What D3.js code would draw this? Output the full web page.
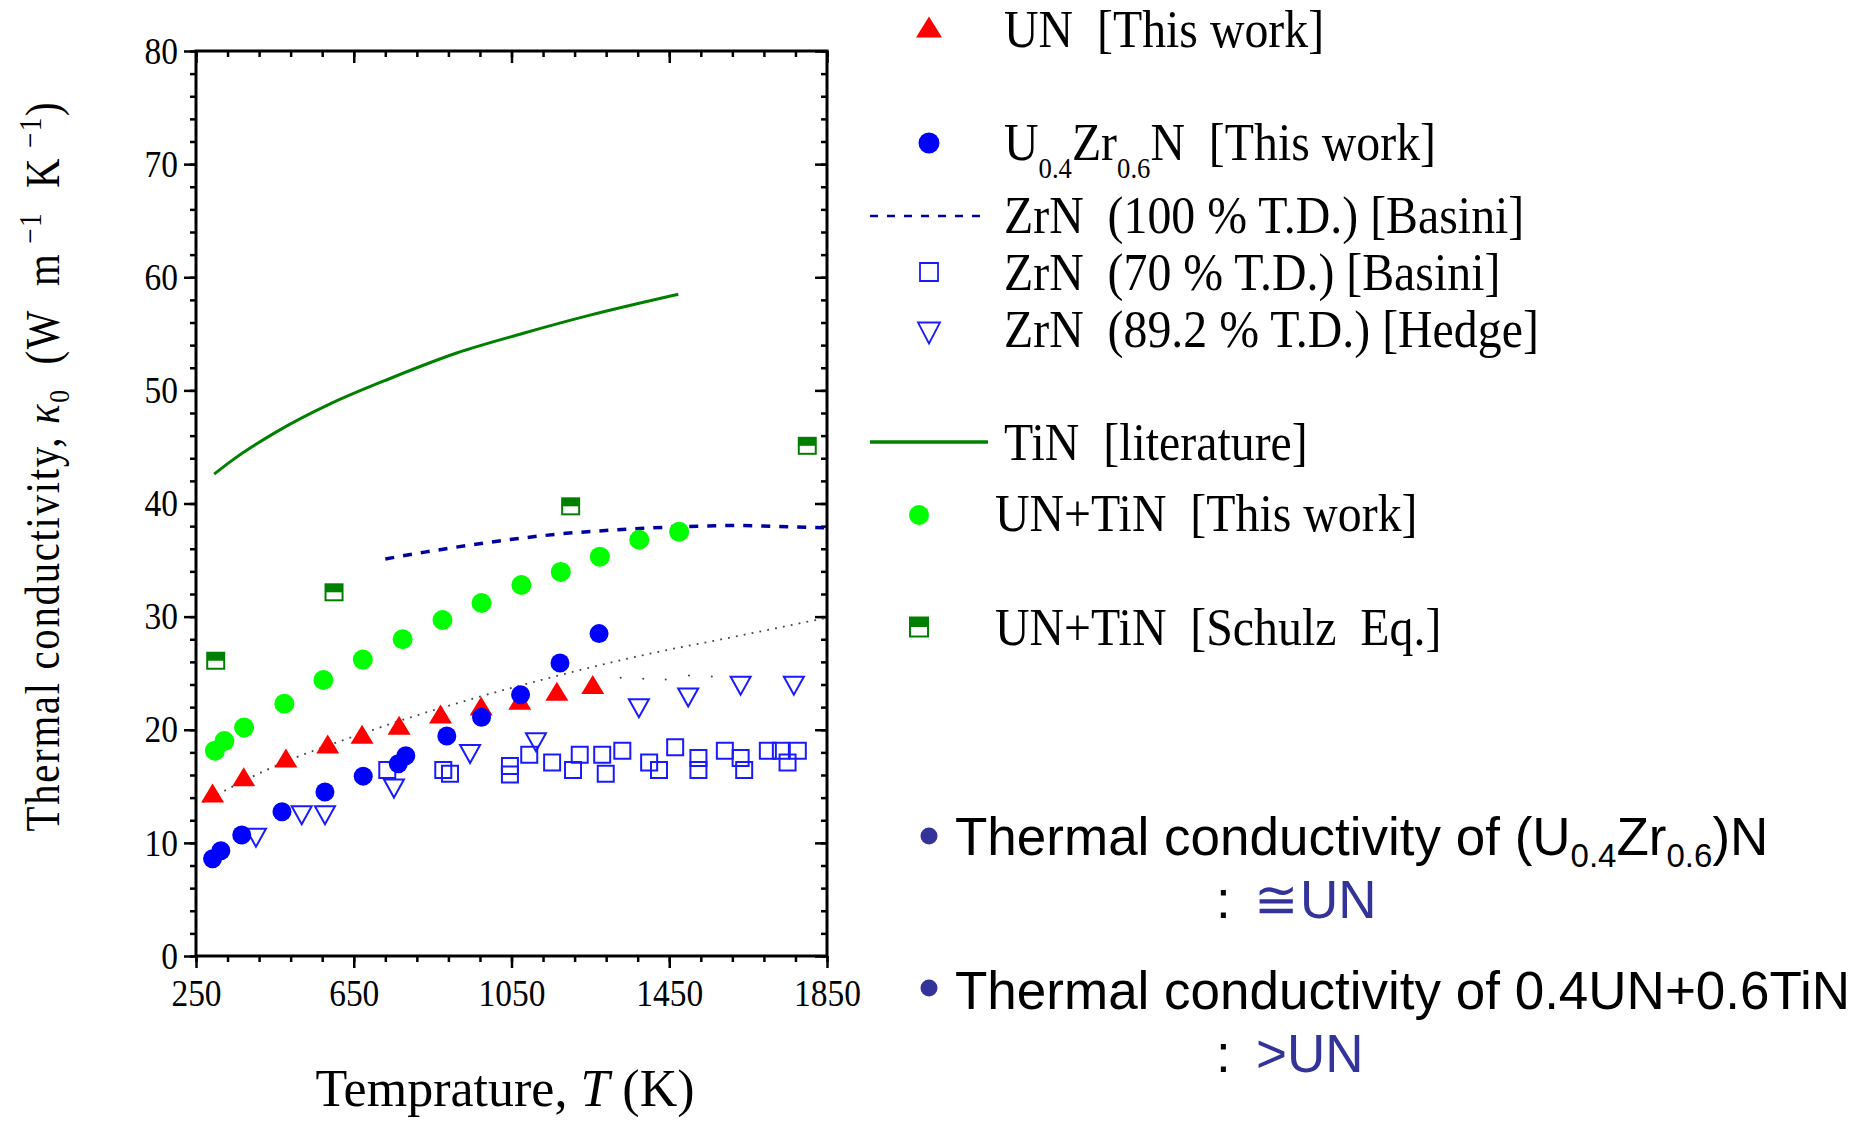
<!DOCTYPE html>
<html>
<head>
<meta charset="utf-8">
<script src="https://cdn.jsdelivr.net/npm/d3@7"></script>
<style>
body{margin:0;background:#fff;}
svg{display:block;font-family:"Liberation Serif","Times New Roman",serif;}
.tick line{stroke:#000;stroke-width:2.5;}
.tick text{font-family:"Liberation Serif",serif;font-size:38px;fill:#000;}
</style>
</head>
<body>
<div id="chart"></div>
<script>
// ---- data ----
const xTicks = [250, 650, 1050, 1450, 1850];
const yTicks = [0, 10, 20, 30, 40, 50, 60, 70, 80];

// UN [This work]
const unT = [292, 371, 478, 584, 671, 765, 870, 973, 1071, 1165, 1256];
const unK = [14.4, 15.85, 17.5, 18.75, 19.6, 20.4, 21.4, 22.1, 22.6, 23.4, 24.0];
// U0.4Zr0.6N [This work]
const uzrT = [292, 313, 366, 468, 577, 674, 763, 782, 886, 974, 1073, 1173, 1272];
const uzrK = [8.6, 9.3, 10.7, 12.75, 14.5, 15.9, 17.0, 17.7, 19.45, 21.1, 23.1, 25.9, 28.5];
// ZrN 100 % T.D. [Basini] (dashed)
const zrn100T = [730, 830, 980, 1170, 1330, 1480, 1620, 1750, 1850];
const zrn100K = [35.1, 35.7, 36.5, 37.3, 37.7, 37.95, 38.05, 37.95, 37.85];
// ZrN 70 % T.D. [Basini] (open squares)
const zrn70T = [735, 877, 894, 1046, 1046, 1095, 1153, 1206, 1223, 1280, 1289, 1331, 1399, 1424, 1465,
                1524, 1524, 1591, 1631, 1640, 1700, 1733, 1750, 1776];
const zrn70K = [16.45, 16.45, 16.1, 16.8, 16.05, 17.8, 17.1, 16.45, 17.8, 17.8, 16.1, 18.15, 17.1, 16.45, 18.45,
                17.5, 16.45, 18.15, 17.5, 16.45, 18.15, 18.15, 17.1, 18.15];
// ZrN 89.2 % T.D. [Hedge] (open down triangles)
const zrn89T = [402, 518, 577, 752, 945, 1112, 1373, 1498, 1631, 1766];
const zrn89K = [10.45, 12.45, 12.45, 14.8, 17.85, 18.9, 21.9, 22.85, 23.9, 23.9];
// TiN [literature]
const tinT = [296, 345, 455, 590, 742, 911, 1080, 1249, 1473];
const tinK = [42.6, 43.9, 46.35, 48.8, 51.05, 53.3, 55.05, 56.65, 58.5];
// UN+TiN [This work]
const untinT = [298, 322, 372, 474, 573, 673, 774, 875, 974, 1075, 1175, 1274, 1374, 1475];
const untinK = [18.15, 19.0, 20.2, 22.3, 24.4, 26.2, 28.0, 29.7, 31.2, 32.8, 33.95, 35.3, 36.8, 37.5];
// UN+TiN [Schulz Eq.]
const schulzT = [300, 600, 1200, 1800];
const schulzK = [26.1, 32.15, 39.75, 45.1];
// dotted guide line
const dotT = [268, 429, 691, 1131, 1384, 1612, 1850];
const dotK = [13.6, 16.45, 19.9, 24.45, 26.6, 28.2, 29.9];
// loose dots near the dotted line
const faintT = [1327, 1384, 1441, 1500, 1558];
const faintK = [24.6, 24.5, 24.45, 24.8, 24.7];

const legendLabels = ['UN  [This work]', 'U|0.4|Zr|0.6|N  [This work]', 'ZrN  (100 % T.D.) [Basini]',
  'ZrN  (70 % T.D.) [Basini]', 'ZrN  (89.2 % T.D.) [Hedge]', 'TiN  [literature]',
  'UN+TiN  [This work]', 'UN+TiN  [Schulz  Eq.]'];

const zip = (a, b) => a.map((v, i) => [v, b[i]]);

const svg = d3.select('#chart').append('svg')
  .attr('width', 1864).attr('height', 1125);

const x = d3.scaleLinear().domain([250, 1850]).range([196, 827]);
const y = d3.scaleLinear().domain([0, 80]).range([956, 51]);

// ---- axes ----
const minorX = d3.range(250, 1851, 80);
const minorY = d3.range(0, 81, 2);
const squeeze = 0.88; // tick labels are a narrow serif

function addAxis(gen, tr, noLabels) {
  const g = svg.append('g').attr('transform', tr).call(gen);
  g.select('.domain').remove();
  if (noLabels) g.selectAll('text').remove();
  return g;
}
const H = 'translate(0,956)', T = 'translate(0,51)', L = 'translate(196,0)', R = 'translate(827,0)';
addAxis(d3.axisBottom(x).tickValues(minorX).tickSize(6).tickFormat(''), H, true);
addAxis(d3.axisBottom(x).tickValues(xTicks).tickSize(12).tickPadding(11).tickFormat(d3.format('d')), H)
  .selectAll('text').attr('transform', `scale(${squeeze},1)`);
addAxis(d3.axisTop(x).tickValues(minorX).tickSize(-6), T, true);
addAxis(d3.axisTop(x).tickValues(xTicks).tickSize(-12), T, true);
addAxis(d3.axisLeft(y).tickValues(minorY).tickSize(6), L, true);
addAxis(d3.axisLeft(y).tickValues(yTicks).tickSize(12).tickPadding(6), L)
  .selectAll('text').attr('transform', `scale(${squeeze},1)`).attr('x', -18 / squeeze);
addAxis(d3.axisRight(y).tickValues(minorY).tickSize(-6), R, true);
addAxis(d3.axisRight(y).tickValues(yTicks).tickSize(-12), R, true);

svg.append('rect')
  .attr('x', x(250)).attr('y', y(80))
  .attr('width', x(1850) - x(250)).attr('height', y(0) - y(80))
  .attr('fill', 'none').attr('stroke', '#000').attr('stroke-width', 3);

// ---- lines ----
const line = d3.line().x(d => x(d[0])).y(d => y(d[1])).curve(d3.curveMonotoneX);

svg.append('path').datum(zip(dotT, dotK))
  .attr('fill', 'none').attr('stroke', '#444').attr('stroke-width', 1.8)
  .attr('stroke-dasharray', '1.8,6.2').attr('d', line);
svg.append('g').selectAll('circle').data(zip(faintT, faintK)).join('circle')
  .attr('cx', d => x(d[0])).attr('cy', d => y(d[1])).attr('r', 1).attr('fill', '#444');

svg.append('path').datum(zip(tinT, tinK))
  .attr('fill', 'none').attr('stroke', '#008000').attr('stroke-width', 3).attr('d', line);

svg.append('path').datum(zip(zrn100T, zrn100K))
  .attr('fill', 'none').attr('stroke', '#0000a0').attr('stroke-width', 3.5)
  .attr('stroke-dasharray', '9,9').attr('d', line);

// ---- marker shapes ----
const triUp = (w, h) => `M0,${-h / 2}L${w / 2},${h / 2}L${-w / 2},${h / 2}Z`;
const triDown = (w, h) => `M0,${h / 2}L${w / 2},${-h / 2}L${-w / 2},${-h / 2}Z`;
const sq = s => `M${-s / 2},${-s / 2}h${s}v${s}h${-s}Z`;

function drawSchulz(g, cx, cy, w, h) {
  g.append('rect').attr('x', cx - w / 2).attr('y', cy - h / 2).attr('width', w).attr('height', h)
    .attr('fill', '#fff').attr('stroke', '#008000').attr('stroke-width', 2);
  g.append('rect').attr('x', cx - w / 2).attr('y', cy - h / 2).attr('width', w).attr('height', h / 2)
    .attr('fill', '#008000');
}

// open squares
svg.append('g').selectAll('path').data(zip(zrn70T, zrn70K)).join('path')
  .attr('transform', d => `translate(${x(d[0])},${y(d[1])})`)
  .attr('d', sq(16)).attr('fill', 'none').attr('stroke', '#1a1aff').attr('stroke-width', 2);
// open down triangles
svg.append('g').selectAll('path').data(zip(zrn89T, zrn89K)).join('path')
  .attr('transform', d => `translate(${x(d[0])},${y(d[1])})`)
  .attr('d', triDown(20, 18)).attr('fill', 'none').attr('stroke', '#1a1aff').attr('stroke-width', 2);
// UN triangles
svg.append('g').selectAll('path').data(zip(unT, unK)).join('path')
  .attr('transform', d => `translate(${x(d[0])},${y(d[1])})`)
  .attr('d', triUp(23, 19)).attr('fill', '#ff0000');
// U0.4Zr0.6N circles
svg.append('g').selectAll('circle').data(zip(uzrT, uzrK)).join('circle')
  .attr('cx', d => x(d[0])).attr('cy', d => y(d[1])).attr('r', 9.5).attr('fill', '#0000ff');
// UN+TiN circles
svg.append('g').selectAll('circle').data(zip(untinT, untinK)).join('circle')
  .attr('cx', d => x(d[0])).attr('cy', d => y(d[1])).attr('r', 10).attr('fill', '#00ff00');
// Schulz half squares
const gs = svg.append('g');
zip(schulzT, schulzK).forEach(d => drawSchulz(gs, x(d[0]), y(d[1]), 17, 16));

// ---- axis titles ----
const yt = svg.append('text')
  .attr('transform', 'translate(59,466) rotate(-90) scale(0.85,1)')
  .attr('text-anchor', 'middle').attr('font-size', 48)
  .style('white-space', 'pre').style('letter-spacing', '2px');
yt.append('tspan').text('Thermal conductivity, ');
yt.append('tspan').attr('font-style', 'italic').text('κ');
yt.append('tspan').attr('font-size', 30).attr('dy', 10).text('0');
yt.append('tspan').attr('dy', -10).text('  (W  m');
yt.append('tspan').attr('font-size', 32).attr('dy', -18).text(' −1');
yt.append('tspan').attr('dy', 18).text('  K');
yt.append('tspan').attr('font-size', 32).attr('dy', -18).text(' −1');
yt.append('tspan').attr('dy', 18).text(')');

const xt = svg.append('text')
  .attr('x', 505).attr('y', 1106).attr('text-anchor', 'middle').attr('font-size', 52)
  .style('white-space', 'pre');
xt.append('tspan').text('Temprature, ');
xt.append('tspan').attr('font-style', 'italic').text('T');
xt.append('tspan').text(' (K)');

// ---- legend ----
const leg = svg.append('g');
const rowBase = [47, 160, 233, 290, 347, 460, 531, 645];
const rowMark = [27, 143, 216, 272, 333, 442, 515, 627];
const textX = [1004, 1004, 1004, 1004, 1004, 1004, 995, 995];

leg.append('path').attr('transform', `translate(929,${rowMark[0]})`).attr('d', triUp(26, 21)).attr('fill', '#ff0000');
leg.append('circle').attr('cx', 929).attr('cy', rowMark[1]).attr('r', 10.5).attr('fill', '#0000ff');
leg.append('line').attr('x1', 870).attr('x2', 988).attr('y1', rowMark[2]).attr('y2', rowMark[2])
  .attr('stroke', '#0000a0').attr('stroke-width', 2.5).attr('stroke-dasharray', '8,9');
leg.append('path').attr('transform', `translate(929,${rowMark[3]})`).attr('d', sq(18))
  .attr('fill', 'none').attr('stroke', '#1a1aff').attr('stroke-width', 1.8);
leg.append('path').attr('transform', `translate(929,${rowMark[4]})`).attr('d', triDown(22, 21))
  .attr('fill', 'none').attr('stroke', '#1a1aff').attr('stroke-width', 1.8);
leg.append('line').attr('x1', 870).attr('x2', 988).attr('y1', rowMark[5]).attr('y2', rowMark[5])
  .attr('stroke', '#008000').attr('stroke-width', 3.5);
leg.append('circle').attr('cx', 919).attr('cy', rowMark[6]).attr('r', 10).attr('fill', '#00ff00');
drawSchulz(leg, 919, rowMark[7], 18, 19);

legendLabels.forEach((lab, i) => {
  const t = leg.append('g').attr('transform', `translate(${textX[i]},${rowBase[i]}) scale(0.92,1)`)
    .append('text').attr('font-size', 52).style('white-space', 'pre');
  lab.split('|').forEach((part, j) => {
    const sub = j % 2 === 1;
    t.append('tspan').attr('font-size', sub ? 29 : 52)
      .attr('dy', j === 0 ? 0 : (sub ? 18 : -18)).text(part);
  });
});

// ---- notes at bottom right ----
const notes = svg.append('g').attr('font-family', '"Liberation Sans", Arial, sans-serif').attr('font-size', 53)
  .style('white-space', 'pre');
const navy = '#333399';
notes.append('circle').attr('cx', 929).attr('cy', 836).attr('r', 8.5).attr('fill', navy);
notes.append('circle').attr('cx', 929).attr('cy', 988).attr('r', 8.5).attr('fill', navy);

const n1 = notes.append('text').attr('x', 955).attr('y', 855);
n1.append('tspan').text('Thermal conductivity of (U');
n1.append('tspan').attr('font-size', 33).attr('dy', 12).text('0.4');
n1.append('tspan').attr('dy', -12).text('Zr');
n1.append('tspan').attr('font-size', 33).attr('dy', 12).text('0.6');
n1.append('tspan').attr('dy', -12).text(')N');

const n2 = notes.append('text').attr('x', 1216).attr('y', 918);
n2.append('tspan').text(':');
n2.append('tspan').attr('x', 1254).attr('fill', navy).text('≅');
n2.append('tspan').attr('x', 1300).attr('fill', navy).text('UN');

notes.append('text').attr('x', 955).attr('y', 1009).text('Thermal conductivity of 0.4UN+0.6TiN');

const n4 = notes.append('text').attr('x', 1216).attr('y', 1072);
n4.append('tspan').text(':');
n4.append('tspan').attr('x', 1256).attr('fill', navy).text('>UN');
</script>
</body>
</html>
